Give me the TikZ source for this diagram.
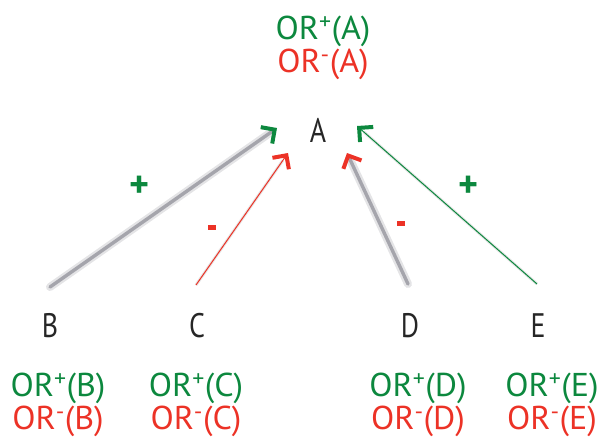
\documentclass[tikz,border=0pt]{standalone}
\usepackage{fontspec}
\setmainfont{PT Sans}
\usetikzlibrary{arrows.meta,calc}
\definecolor{posgreen}{RGB}{12,136,62}
\definecolor{negred}{RGB}{236,50,38}
\definecolor{linkgray}{RGB}{165,165,172}
\tikzset{
  varname/.style={font=\fontsize{34}{34}\selectfont\addfontfeature{FakeStretch=0.82}, text=black!85, inner sep=0pt, anchor=base},
  orlabel/.style={font=\fontsize{33}{33}\selectfont\addfontfeature{FakeStretch=1.03}, inner sep=0pt, anchor=base, text height=23pt, text depth=3pt},
  orpos/.style={orlabel, text=posgreen},
  orneg/.style={orlabel, text=negred},
  signpos/.style={font=\bfseries\fontsize{38}{38}\selectfont, text=posgreen, inner sep=0pt},
  signneg/.style={fill=negred, minimum width=8pt, minimum height=5pt, inner sep=0pt},
  headpos/.style={-{Straight Barb[length=10pt,width=20pt,line width=4pt,color=posgreen]}},
  headneg/.style={-{Straight Barb[length=10pt,width=20pt,line width=4pt,color=negred]}},
  thicklink/.style={line width=3.4pt, draw=linkgray, line cap=round},
  thicklinkhaze/.style={line width=8pt, draw=linkgray!30, line cap=round},
  thinlink/.style={line width=1pt},
  thinhaze/.style={line width=3pt, draw=black!10},
}
\begin{document}
\begin{tikzpicture}[x=1pt,y=-1pt]
\useasboundingbox (0,0) rectangle (599,437);

% variables (placed by baseline)
\node[varname] (A) at (318,142) {A};
\node[varname] (B) at (50,337) {B};
\node[varname] (C) at (197,337) {C};
\node[varname] (D) at (410,337) {D};
\node[varname] (E) at (538,337) {E};

% odds-ratio labels (placed by baseline)
\node[orpos] (ApA) at (323,39) {OR\textsuperscript{+}(A)};
\node[orneg] (AnA) at (323,72) {OR\textsuperscript{-}(A)};
\node[orpos] (BpB) at (58,396) {OR\textsuperscript{+}(B)};
\node[orneg] (BnB) at (58,429) {OR\textsuperscript{-}(B)};
\node[orpos] (CpC) at (196,396) {OR\textsuperscript{+}(C)};
\node[orneg] (CnC) at (196,429) {OR\textsuperscript{-}(C)};
\node[orpos] (DpD) at (418,396) {OR\textsuperscript{+}(D)};
\node[orneg] (DnD) at (418,429) {OR\textsuperscript{-}(D)};
\node[orpos] (EpE) at (552,396) {OR\textsuperscript{+}(E)};
\node[orneg] (EnE) at (552,429) {OR\textsuperscript{-}(E)};

% connector ends
\coordinate (sB) at (50,287);  \coordinate (tB) at (277,128);
\coordinate (sC) at (196,285); \coordinate (tC) at (288,153);
\coordinate (sD) at (408,284); \coordinate (tD) at (347,153);
\coordinate (sE) at (537,284); \coordinate (tE) at (357,126);

% soft shading under the links
\draw[thicklinkhaze] (sB) -- ($(tB)!11pt!(sB)$);
\draw[thicklinkhaze] (sD) -- ($(tD)!11pt!(sD)$);
\draw[thinhaze] (sC) -- ($(tC)!9pt!(sC)$);
\draw[thinhaze] (sE) -- ($(tE)!9pt!(sE)$);

% links
\draw[thicklink, headpos] (sB) -- (tB);
\draw[thinlink, negred, headneg] (sC) -- (tC);
\draw[thicklink, headneg] (sD) -- (tD);
\draw[thinlink, posgreen, headpos] (sE) -- (tE);

% signs
\node[signpos] (pB) at (140,187) {+};
\node[signneg] (mC) at (212,227) {};
\node[signneg] (mD) at (401,223) {};
\node[signpos] (pE) at (469,187) {+};
\end{tikzpicture}
\end{document}
